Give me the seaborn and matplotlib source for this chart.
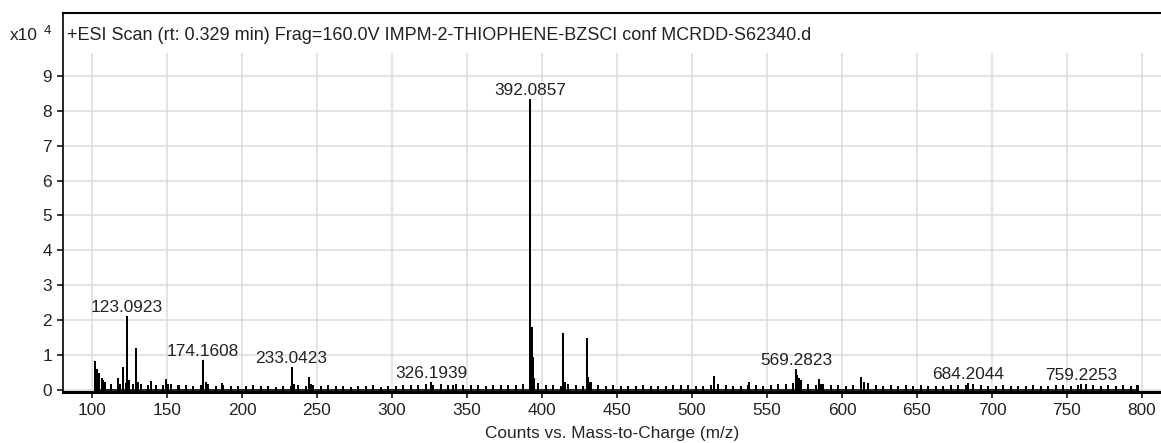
import numpy as np
import pandas as pd
import matplotlib
matplotlib.use('Agg')
import matplotlib.pyplot as plt
import seaborn as sns

# main peaks (m/z, counts in units of 1e4)
peak_mz = [101.9, 103.5, 104.4, 106.5, 109.0, 117.2, 119.0, 120.6, 123.0923, 125.0, 129.1, 131.0,
           139.3, 149.3, 151.0, 158.0, 174.1608, 176.0, 187.0, 233.0423, 235.0, 244.8, 246.0,
           326.1939, 341.0, 392.0857, 393.1, 394.1, 395.0, 414.3, 415.5, 430.0, 431.0, 432.0,
           515.0, 538.0, 569.2823, 570.3, 571.3, 573.0, 584.5, 586.0, 613.0, 614.5,
           684.2044, 759.2253, 797.0]
peak_int = [0.79, 0.58, 0.45, 0.30, 0.20, 0.30, 0.15, 0.64, 2.10, 0.25, 1.18, 0.20,
            0.23, 0.29, 0.15, 0.12, 0.84, 0.20, 0.18, 0.64, 0.15, 0.35, 0.15,
            0.20, 0.12, 8.30, 1.76, 0.92, 0.30, 1.61, 0.20, 1.47, 0.35, 0.20,
            0.38, 0.20, 0.58, 0.40, 0.30, 0.22, 0.29, 0.15, 0.34, 0.20,
            0.17, 0.15, 0.12]

# baseline clutter, one stick every 5 m/z from 100 to 800
noise_mz = np.arange(102.5, 802.5, 5.0)
noise_int = [0.12, 0.25, 0.15, 0.12, 0.18, 0.15, 0.14, 0.12, 0.10, 0.12,
             0.14, 0.10, 0.12, 0.08, 0.10, 0.14, 0.08, 0.10, 0.09, 0.07,
             0.08, 0.10, 0.07, 0.08, 0.06, 0.09, 0.08, 0.12, 0.08, 0.10,
             0.08, 0.10, 0.07, 0.09, 0.06, 0.08, 0.07, 0.10, 0.06, 0.07,
             0.09, 0.12, 0.10, 0.12, 0.14, 0.12, 0.13, 0.10, 0.14, 0.10,
             0.12, 0.10, 0.09, 0.11, 0.10, 0.12, 0.10, 0.14, 0.20, 0.18,
             0.10, 0.12, 0.09, 0.14, 0.10, 0.09, 0.20, 0.12, 0.08, 0.10,
             0.07, 0.09, 0.08, 0.10, 0.07, 0.09, 0.08, 0.10, 0.12, 0.10,
             0.09, 0.08, 0.12, 0.15, 0.10, 0.08, 0.09, 0.10, 0.12, 0.09,
             0.11, 0.14, 0.15, 0.18, 0.25, 0.15, 0.12, 0.15, 0.12, 0.10,
             0.09, 0.10, 0.12, 0.18, 0.10, 0.08, 0.10, 0.09, 0.11, 0.08,
             0.10, 0.07, 0.09, 0.08, 0.10, 0.11, 0.12, 0.14, 0.10, 0.08,
             0.09, 0.10, 0.08, 0.09, 0.07, 0.10, 0.08, 0.09, 0.10, 0.11,
             0.09, 0.10, 0.14, 0.10, 0.09, 0.11, 0.08, 0.10, 0.09, 0.12]

label_mz = [123.0923, 174.1608, 233.0423, 326.1939, 392.0857, 569.2823, 684.2044, 759.2253]

x_ticks = list(range(100, 801, 50))
y_ticks = list(range(0, 10))

sns.set_style('white')
plt.rcParams['font.family'] = ['Liberation Sans', 'DejaVu Sans']
plt.rcParams['text.color'] = '#222222'

spec = pd.DataFrame({'mz': list(peak_mz) + list(noise_mz),
                     'counts': list(peak_int) + list(noise_int)}).sort_values('mz')
# stick trace: up and back down at each m/z
trace = pd.DataFrame({
    'mz': np.repeat(spec['mz'].values, 3),
    'counts': np.column_stack([np.zeros(len(spec)), spec['counts'].values, np.zeros(len(spec))]).ravel(),
})

fig = plt.figure(figsize=(11.61, 4.43), dpi=100)
ax = fig.add_axes([63 / 1161, 51 / 443, 1098 / 1161, 379 / 443])

ymin, ymax = -0.06, 10.80
ax.set_xlim(80.67, 812.7)
ax.set_ylim(ymin, ymax)

# grid: horizontal full width, vertical stops below the header strip
ax.set_yticks(y_ticks)
ax.set_xticks(x_ticks)
ax.yaxis.grid(True, color='#dcdcdc', linewidth=1.1)
ax.xaxis.grid(False)
ax.vlines(x_ticks, ymin, 9.66, color='#dcdcdc', linewidth=1.1, zorder=0)

sns.lineplot(data=trace, x='mz', y='counts', estimator=None, sort=False,
             color='black', linewidth=1.2, ax=ax)

for mz in label_mz:
    h = peak_int[peak_mz.index(mz)]
    ax.annotate(f'{mz:.4f}', xy=(mz, h), xytext=(0, 3.5), textcoords='offset points',
                ha='center', va='baseline', fontsize=12.4, color='#222222')

for side in ['left', 'top', 'bottom']:
    ax.spines[side].set_visible(True)
    ax.spines[side].set_color('black')
ax.spines['left'].set_linewidth(1.2)
ax.spines['top'].set_linewidth(1.5)
ax.spines['bottom'].set_linewidth(2.2)
ax.spines['right'].set_visible(False)

ax.tick_params(axis='both', direction='out', length=4.3, width=1.1, color='black',
               labelsize=12.4, labelcolor='#222222', pad=3.5)
ax.tick_params(axis='x', bottom=True)
ax.tick_params(axis='y', left=True)
ax.set_xlabel('Counts vs. Mass-to-Charge (m/z)', fontsize=12.4, labelpad=6)
ax.set_ylabel('')

fig.text(10 / 1161, 1 - 35 / 443, 'x10', fontsize=12.4, va='center', ha='left')
fig.text(44 / 1161, 1 - 31 / 443, '4', fontsize=9.5, va='center', ha='left')
fig.text(67 / 1161, 1 - 35 / 443,
         '+ESI Scan (rt: 0.329 min) Frag=160.0V IMPM-2-THIOPHENE-BZSCI conf MCRDD-S62340.d',
         fontsize=13, va='center', ha='left')

fig.savefig('out.png', dpi=100)
